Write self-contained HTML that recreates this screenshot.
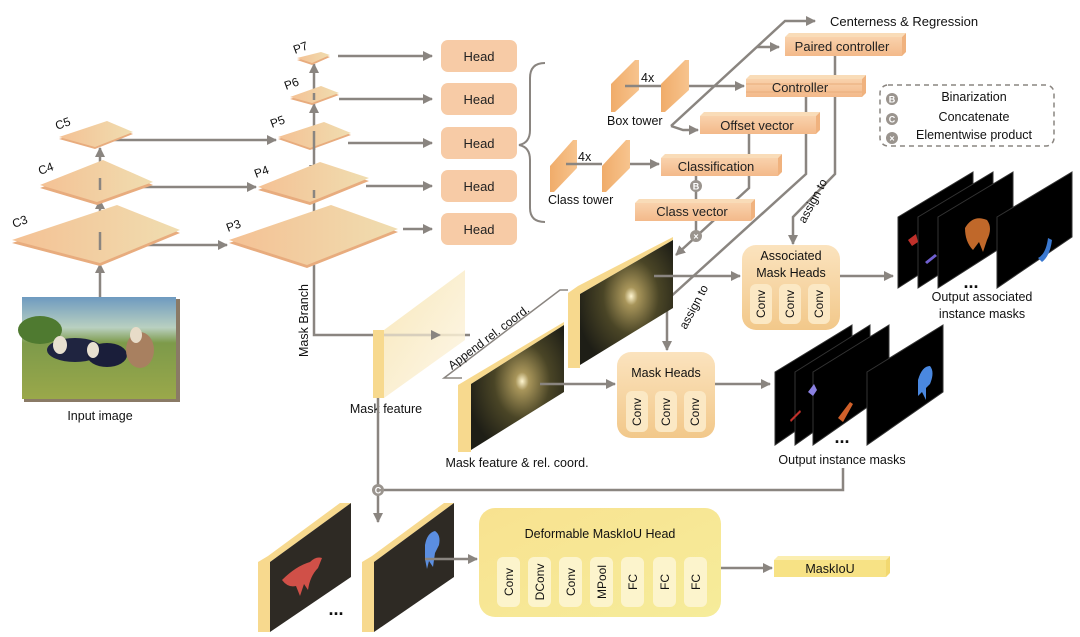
<!DOCTYPE html>
<html><head><meta charset="utf-8"><style>
html,body{margin:0;padding:0;background:#fff;}
svg{display:block;font-family:"Liberation Sans",sans-serif;}
</style></head><body>
<svg width="1080" height="637" viewBox="0 0 1080 637" xmlns="http://www.w3.org/2000/svg">
<defs>
<marker id="ah" viewBox="0 0 10 10" refX="9" refY="5" markerWidth="4" markerHeight="4" orient="auto-start-reverse"><path d="M0,0L10,5L0,10z" fill="#8a8580"/></marker>
<linearGradient id="plate" x1="0" y1="0" x2="1" y2="0"><stop offset="0" stop-color="#f4c194"/><stop offset="1" stop-color="#f0ddb0"/></linearGradient>
<linearGradient id="box" x1="0" y1="0" x2="0" y2="1"><stop offset="0" stop-color="#f9d2ac"/><stop offset="1" stop-color="#f3b98a"/></linearGradient>
<linearGradient id="slab" x1="0" y1="0" x2="1" y2="0"><stop offset="0" stop-color="#f0ac6a"/><stop offset="1" stop-color="#f7c48e"/></linearGradient>
<linearGradient id="hb" x1="0" y1="0" x2="0" y2="1"><stop offset="0" stop-color="#fbe3be"/><stop offset="1" stop-color="#f2c88a"/></linearGradient>
<linearGradient id="yb" x1="0" y1="0" x2="1" y2="1"><stop offset="0" stop-color="#f8e290"/><stop offset="1" stop-color="#f6ec9a"/></linearGradient>
<radialGradient id="glow" cx="0.55" cy="0.45" r="0.6"><stop offset="0" stop-color="#fff6d0"/><stop offset="0.12" stop-color="#a8955a"/><stop offset="0.5" stop-color="#4a4526"/><stop offset="1" stop-color="#1e1e16"/></radialGradient>
<linearGradient id="pale" x1="0" y1="0" x2="1" y2="1"><stop offset="0" stop-color="#f7e4b0"/><stop offset="1" stop-color="#fdf6e6"/></linearGradient>
<linearGradient id="img" x1="0" y1="0" x2="0" y2="1"><stop offset="0" stop-color="#6e9ac0"/><stop offset="0.3" stop-color="#b9d0c0"/><stop offset="0.45" stop-color="#7d9a4a"/><stop offset="1" stop-color="#9aa84a"/></linearGradient>
</defs>

<g stroke="#8a8580" stroke-width="2.5" fill="none">
<line x1="100" y1="297" x2="100" y2="264" marker-end="url(#ah)"/>
<line x1="100" y1="232" x2="100" y2="200" marker-end="url(#ah)"/>
<line x1="100" y1="178" x2="100" y2="148" marker-end="url(#ah)"/>
<line x1="130" y1="245" x2="227" y2="245" marker-end="url(#ah)"/>
<line x1="120" y1="187" x2="256" y2="187" marker-end="url(#ah)"/>
<line x1="112" y1="140" x2="276" y2="140" marker-end="url(#ah)"/>
<line x1="314" y1="131" x2="314" y2="104" marker-end="url(#ah)"/>
<line x1="314" y1="93" x2="314" y2="64" marker-end="url(#ah)"/>
<line x1="314" y1="142" x2="314" y2="174" marker-end="url(#ah)"/>
<line x1="314" y1="198" x2="314" y2="223" marker-end="url(#ah)"/>
<line x1="338" y1="56" x2="432" y2="56" marker-end="url(#ah)"/>
<line x1="339" y1="99" x2="432" y2="99" marker-end="url(#ah)"/>
<line x1="348" y1="143" x2="432" y2="143" marker-end="url(#ah)"/>
<line x1="366" y1="186" x2="432" y2="186" marker-end="url(#ah)"/>
<line x1="403" y1="229" x2="432" y2="229" marker-end="url(#ah)"/>
<polyline points="314,265 314,335 470,335"/>
</g>

<g>
<polygon points="12,243 117,208 180,233 100,266" fill="#e8ac7e"/><polygon points="12,240 117,205 180,230 100,263" fill="url(#plate)"/>
<polygon points="40,188 103,163 153,185 97,205" fill="#e8ac7e"/><polygon points="40,185 103,160 153,182 97,202" fill="url(#plate)"/>
<polygon points="59,139 107,123 133,134 95,149" fill="#e8ac7e"/><polygon points="59,137 107,121 133,132 95,147" fill="url(#plate)"/>
<polygon points="229,243 331,208 398,232 307,268" fill="#e8ac7e"/><polygon points="229,240 331,205 398,229 307,265" fill="url(#plate)"/>
<polygon points="258,190 320,165 369,181 310,205" fill="#e8ac7e"/><polygon points="258,187 320,162 369,178 310,202" fill="url(#plate)"/>
<polygon points="278,139 324,124 351,135 310,150" fill="#e8ac7e"/><polygon points="278,137 324,122 351,133 310,148" fill="url(#plate)"/>
<polygon points="290,99 321,88 339,95 312,105" fill="#e8ac7e"/><polygon points="290,97 321,86 339,93 312,103" fill="url(#plate)"/>
<polygon points="297,60 321,54 330,57 312,65" fill="#e8ac7e"/><polygon points="297,58 321,52 330,55 312,63" fill="url(#plate)"/>
</g>
<g stroke="#8a8580" stroke-width="2.5"><line x1="100" y1="250" x2="100" y2="232"/><line x1="100" y1="190" x2="100" y2="178"/><line x1="314" y1="150" x2="314" y2="131"/><line x1="314" y1="100" x2="314" y2="93"/><line x1="314" y1="190" x2="314" y2="198"/></g>
<g font-size="12" fill="#111">
<text x="14" y="228" transform="rotate(-20 14 228)">C3</text>
<text x="40" y="175" transform="rotate(-20 40 175)">C4</text>
<text x="57" y="130" transform="rotate(-20 57 130)">C5</text>
<text x="228" y="232" transform="rotate(-20 228 232)">P3</text>
<text x="256" y="178" transform="rotate(-20 256 178)">P4</text>
<text x="272" y="128" transform="rotate(-20 272 128)">P5</text>
<text x="286" y="90" transform="rotate(-20 286 90)">P6</text>
<text x="295" y="54" transform="rotate(-20 295 54)">P7</text>
</g>

<g font-size="13" fill="#222" text-anchor="middle">
<rect x="441" y="40" width="76" height="32" rx="7" fill="#f7cba6"/><text x="479" y="61">Head</text>
<rect x="441" y="83" width="76" height="32" rx="7" fill="#f7cba6"/><text x="479" y="104">Head</text>
<rect x="441" y="127" width="76" height="32" rx="7" fill="#f7cba6"/><text x="479" y="148">Head</text>
<rect x="441" y="170" width="76" height="32" rx="7" fill="#f7cba6"/><text x="479" y="191">Head</text>
<rect x="441" y="213" width="76" height="32" rx="7" fill="#f7cba6"/><text x="479" y="234">Head</text>
</g>
<path d="M545,63 Q530,63 530,78 L530,130 Q530,143 519,145 Q530,147 530,160 L530,208 Q530,222 545,222" fill="none" stroke="#8a8580" stroke-width="2"/>

<rect x="24" y="299" width="156" height="103" fill="#8a7a66"/>
<rect x="22" y="297" width="154" height="102" fill="url(#img)"/>
<ellipse cx="40" cy="330" rx="22" ry="14" fill="#4f7a30"/>
<ellipse cx="75" cy="350" rx="28" ry="12" fill="#1f2440"/>
<ellipse cx="107" cy="355" rx="20" ry="12" fill="#1a1e3a"/>
<ellipse cx="140" cy="350" rx="14" ry="18" fill="#a88060"/>
<ellipse cx="60" cy="345" rx="7" ry="9" fill="#e8e0d0"/><ellipse cx="93" cy="350" rx="6" ry="8" fill="#e8e0d0"/><ellipse cx="136" cy="335" rx="6" ry="8" fill="#e8dcc8"/>
<text x="100" y="420" font-size="12.5" text-anchor="middle" fill="#111">Input image</text>
<text x="308" y="357" font-size="12.5" fill="#111" transform="rotate(-90 308 357)">Mask Branch</text>

<g stroke="#8a8580" stroke-width="2.5" fill="none">
<polyline points="671,126 785,21 815,21" marker-end="url(#ah)"/>
<line x1="757" y1="47" x2="779" y2="47" marker-end="url(#ah)"/>
<line x1="689" y1="86" x2="744" y2="86" marker-end="url(#ah)"/>
<polyline points="671,126 683,130 698,130" marker-end="url(#ah)"/>
<line x1="630" y1="164" x2="659" y2="164" marker-end="url(#ah)"/>
<line x1="696" y1="175" x2="696" y2="201"/>
<line x1="696" y1="220" x2="696" y2="235"/>
<polyline points="749,133 749,188 676,255" marker-end="url(#ah)"/>
<polyline points="835,55 835,174 793,217 793,244" marker-end="url(#ah)"/>
<polyline points="806,97 806,174 667,300 667,350" marker-end="url(#ah)"/>
</g>
<g>
<polygon points="611,84 635,60 639,60 639,90 615,112 611,112" fill="url(#slab)"/>
<polygon points="661,84 685,60 689,60 689,90 665,112 661,112" fill="url(#slab)"/>
<polygon points="550,166 573,140 577,140 577,168 554,192 550,192" fill="url(#slab)"/>
<polygon points="602,166 626,140 630,140 630,168 606,192 602,192" fill="url(#slab)"/>
</g>
<g stroke="#8a8580" stroke-width="2.5"><line x1="625" y1="86" x2="661" y2="86"/><line x1="566" y1="164" x2="602" y2="164"/></g>
<g font-size="12.5" fill="#111">
<text x="641" y="82">4x</text><text x="607" y="125">Box tower</text>
<text x="578" y="161">4x</text><text x="548" y="204">Class tower</text>
<text x="830" y="26" font-size="13">Centerness &amp; Regression</text>
</g>
<g font-size="13" fill="#222" text-anchor="middle">
<polygon points="785,37 789,33 906,33 902,37" fill="#f9dcb8"/><polygon points="902,37 906,33 906,52 902,56" fill="#f0b27e"/>
<rect x="785" y="37" width="117" height="19" fill="url(#box)"/><text x="842" y="51">Paired controller</text>
<polygon points="746,79 750,75 866,75 862,79" fill="#f9dcb8"/><polygon points="862,79 866,75 866,93 862,97" fill="#f0b27e"/>
<rect x="746" y="79" width="116" height="18" fill="url(#box)"/><line x1="746" y1="84" x2="862" y2="84" stroke="#e9ad7c"/><line x1="746" y1="92" x2="862" y2="92" stroke="#e9ad7c"/><text x="800" y="92">Controller</text>
<polygon points="700,116 704,112 820,112 816,116" fill="#f9dcb8"/><polygon points="816,116 820,112 820,130 816,134" fill="#f0b27e"/>
<rect x="700" y="116" width="116" height="18" fill="url(#box)"/><text x="757" y="130">Offset vector</text>
<polygon points="661,158 665,154 782,154 778,158" fill="#f9dcb8"/><polygon points="778,158 782,154 782,172 778,176" fill="#f0b27e"/>
<rect x="661" y="158" width="117" height="18" fill="url(#box)"/><text x="716" y="171">Classification</text>
<polygon points="635,203 639,199 755,199 751,203" fill="#f9dcb8"/><polygon points="751,203 755,199 755,217 751,221" fill="#f0b27e"/>
<rect x="635" y="203" width="116" height="18" fill="url(#box)"/><text x="692" y="216">Class vector</text>
</g>
<g font-size="9" font-weight="bold" fill="#fff" text-anchor="middle">
<circle cx="696" cy="186" r="6" fill="#9a948e"/><text x="696" y="189.5">B</text>
<circle cx="696" cy="236" r="6" fill="#9a948e"/><text x="696" y="239.5">×</text>
</g>
<rect x="880" y="85" width="174" height="61" rx="8" fill="none" stroke="#8a8580" stroke-width="1.5" stroke-dasharray="5,4"/>
<g font-size="9" font-weight="bold" fill="#fff" text-anchor="middle">
<circle cx="892" cy="99" r="6" fill="#9a948e"/><text x="892" y="102.5">B</text>
<circle cx="892" cy="119" r="6" fill="#9a948e"/><text x="892" y="122.5">C</text>
<circle cx="892" cy="138" r="6" fill="#9a948e"/><text x="892" y="141.5">×</text>
</g>
<g font-size="12.5" fill="#111" text-anchor="middle">
<text x="974" y="101">Binarization</text><text x="974" y="121">Concatenate</text><text x="974" y="139">Elementwise product</text>
</g>

<polygon points="384,330 465,270 465,340 384,398" fill="url(#pale)" opacity="0.85"/>
<rect x="373" y="330" width="11" height="68" fill="#f7d98e"/>
<text x="386" y="413" font-size="12.5" text-anchor="middle" fill="#111">Mask feature</text>
<g stroke="#8a8580" stroke-width="2.5" fill="none">
<line x1="378" y1="398" x2="378" y2="522" marker-end="url(#ah)"/>
<polyline points="843,468 843,490 378,490"/>
<line x1="384" y1="335" x2="440" y2="335" stroke="#d8cfbd" marker-end="url(#ah)"/>
</g>
<circle cx="378" cy="490" r="6" fill="#9a948e"/><text x="378" y="493.5" font-size="9" font-weight="bold" fill="#fff" text-anchor="middle">C</text>

<polyline points="462,378 444,378 560,290 568,290" fill="none" stroke="#8a8580" stroke-width="1.5"/>
<text x="452" y="370" font-size="12" fill="#111" transform="rotate(-37 452 370)">Append rel. coord.</text>

<polygon points="568,293 578,286 673,237 673,240 580,294 580,368 568,368" fill="#f7d98e"/>
<polygon points="580,294 673,240 673,308 580,365" fill="url(#glow)"/>
<polygon points="458,385 468,379 564,322 564,325 471,384 471,452 458,452" fill="#f7d98e"/>
<polygon points="471,384 564,325 564,392 471,450" fill="url(#glow)"/>
<text x="517" y="467" font-size="12.5" text-anchor="middle" fill="#111">Mask feature &amp; rel. coord.</text>

<g stroke="#8a8580" stroke-width="2.5" fill="none">
<line x1="654" y1="276" x2="740" y2="276" marker-end="url(#ah)"/>
<line x1="840" y1="276" x2="893" y2="276" marker-end="url(#ah)"/>
<line x1="540" y1="384" x2="615" y2="384" marker-end="url(#ah)"/>
<line x1="715" y1="384" x2="770" y2="384" marker-end="url(#ah)"/>
</g>
<g font-size="12" fill="#111">
<text x="686" y="330" transform="rotate(-62 686 330)">assign to</text>
<text x="805" y="224" transform="rotate(-62 805 224)">assign to</text>
</g>

<rect x="742" y="245" width="98" height="85" rx="14" fill="url(#hb)"/>
<g font-size="12.5" fill="#111" text-anchor="middle"><text x="791" y="260">Associated</text><text x="791" y="277">Mask Heads</text></g>
<g fill="#fbe8c4"><rect x="750" y="284" width="22" height="40" rx="6"/><rect x="779" y="284" width="22" height="40" rx="6"/><rect x="808" y="284" width="22" height="40" rx="6"/></g>
<g font-size="12" fill="#111" text-anchor="middle">
<text transform="translate(765,304) rotate(-90)">Conv</text><text transform="translate(794,304) rotate(-90)">Conv</text><text transform="translate(823,304) rotate(-90)">Conv</text></g>

<rect x="617" y="352" width="98" height="86" rx="14" fill="url(#hb)"/>
<text x="666" y="377" font-size="12.5" text-anchor="middle" fill="#111">Mask Heads</text>
<g fill="#fbe8c4"><rect x="626" y="391" width="22" height="41" rx="6"/><rect x="655" y="391" width="22" height="41" rx="6"/><rect x="684" y="391" width="22" height="41" rx="6"/></g>
<g font-size="12" fill="#111" text-anchor="middle">
<text transform="translate(641,412) rotate(-90)">Conv</text><text transform="translate(670,412) rotate(-90)">Conv</text><text transform="translate(699,412) rotate(-90)">Conv</text></g>

<g stroke="#333" stroke-width="1">
<polygon points="898,217 973,172 973,240 898,288" fill="#000"/>
<polygon points="918,217 993,172 993,240 918,288" fill="#000"/>
<polygon points="938,217 1013,172 1013,240 938,288" fill="#000"/>
<polygon points="997,217 1072,172 1072,237 997,288" fill="#000"/>
</g>
<path d="M908,240 l8,-6 l2,8 l-6,4z" fill="#c0302a"/>
<path d="M925,262 l10,-8 l2,2 l-10,8z" fill="#7060d0"/>
<path d="M965,228 q8,-14 22,-8 q6,8 0,20 l-4,12 l-4,-10 l-6,8 q-8,-8 -8,-22z" fill="#c0682a"/>
<path d="M1038,258 q8,-4 10,-20 l4,2 q-2,16 -10,22 z" fill="#3a78d0"/>
<text x="971" y="288" font-size="18" font-weight="bold" text-anchor="middle" fill="#111">...</text>
<g font-size="12.5" fill="#111" text-anchor="middle"><text x="982" y="301">Output associated</text><text x="982" y="318">instance masks</text></g>

<g stroke="#333" stroke-width="1">
<polygon points="775,372 852,325 852,392 775,445" fill="#000"/>
<polygon points="795,372 870,325 870,392 795,445" fill="#000"/>
<polygon points="813,372 889,325 889,392 813,445" fill="#000"/>
<polygon points="867,372 943,325 943,392 867,445" fill="#000"/>
</g>
<path d="M808,392 l6,-8 l3,6 l-4,6z" fill="#8a80e0"/>
<path d="M790,420 l10,-10 l1,2 l-10,10z" fill="#c0302a"/>
<path d="M838,418 l12,-16 l3,2 l-10,18z" fill="#d0602a"/>
<path d="M918,380 q4,-14 12,-14 q5,6 0,18 l-4,4 l0,12 l-4,-8 l-4,4z" fill="#4a88e0"/>
<text x="842" y="443" font-size="18" font-weight="bold" text-anchor="middle" fill="#111">...</text>
<text x="842" y="464" font-size="12.5" text-anchor="middle" fill="#111">Output instance masks</text>

<polygon points="258,562 268,556 340,503 351,503 270,562 270,632 258,632" fill="#f7d98e"/>
<polygon points="270,562 351,503 351,577 270,632" fill="#2e2a24"/>
<path d="M282,580 q14,-14 28,-18 q6,-6 12,-4 l-4,10 q-8,8 -10,22 l-4,-6 l-4,12 l-4,-10 q-8,2 -14,-6z" fill="#d05048"/>
<polygon points="362,562 372,556 444,503 454,503 374,562 374,632 362,632" fill="#f7d98e"/>
<polygon points="374,562 454,503 454,577 374,632" fill="#2e2a24"/>
<path d="M425,545 q2,-12 10,-14 q6,4 4,14 l-4,8 l-2,14 l-4,-6 l-2,8 l-2,-10z" fill="#5b8ee0"/>
<text x="336" y="615" font-size="18" font-weight="bold" text-anchor="middle" fill="#111">...</text>
<g stroke="#8a8580" stroke-width="2.5"><line x1="425" y1="559" x2="477" y2="559" marker-end="url(#ah)"/><line x1="721" y1="568" x2="772" y2="568" marker-end="url(#ah)"/></g>

<rect x="479" y="508" width="242" height="109" rx="16" fill="url(#yb)"/>
<text x="600" y="538" font-size="12.5" text-anchor="middle" fill="#111">Deformable MaskIoU Head</text>
<g fill="#fcf4cc">
<rect x="497" y="557" width="23" height="50" rx="6"/><rect x="528" y="557" width="23" height="50" rx="6"/><rect x="559" y="557" width="23" height="50" rx="6"/><rect x="590" y="557" width="23" height="50" rx="6"/><rect x="621" y="557" width="23" height="50" rx="6"/><rect x="653" y="557" width="23" height="50" rx="6"/><rect x="684" y="557" width="23" height="50" rx="6"/>
</g>
<g font-size="12" fill="#111" text-anchor="middle">
<text transform="translate(513,582) rotate(-90)">Conv</text>
<text transform="translate(544,582) rotate(-90)">DConv</text>
<text transform="translate(575,582) rotate(-90)">Conv</text>
<text transform="translate(606,582) rotate(-90)">MPool</text>
<text transform="translate(637,582) rotate(-90)">FC</text>
<text transform="translate(669,582) rotate(-90)">FC</text>
<text transform="translate(700,582) rotate(-90)">FC</text>
</g>
<polygon points="774,560 778,556 890,556 886,560" fill="#fbeeb0"/><polygon points="886,560 890,556 890,573 886,577" fill="#f2d870"/>
<rect x="774" y="560" width="112" height="17" fill="#f7e285"/>
<text x="830" y="573" font-size="12.5" text-anchor="middle" fill="#111">MaskIoU</text>
</svg>
</body></html>
